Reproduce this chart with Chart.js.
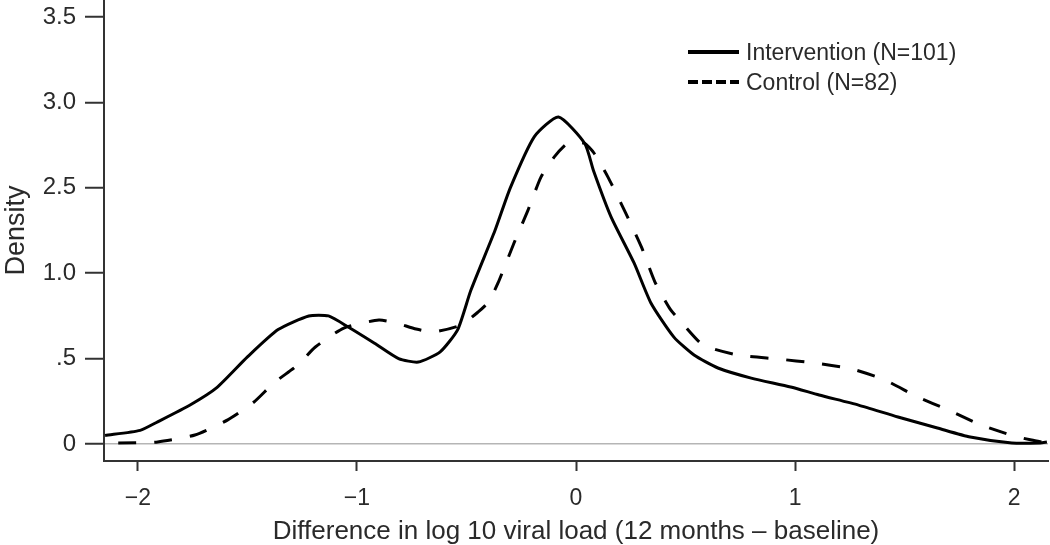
<!DOCTYPE html>
<html>
<head>
<meta charset="utf-8">
<script src="https://cdn.jsdelivr.net/npm/chart.js@4.4.1/dist/chart.umd.min.js"></script>
<style>
  html, body { margin: 0; padding: 0; background: #fff; }
  #wrap { width: 1050px; height: 545px; position: relative; }
</style>
</head>
<body>
<div id="wrap"><canvas id="c" width="1050" height="545"></canvas></div>
<script>
// ---- data ----
const seriesNames = ['Intervention (N=101)', 'Control (N=82)'];

const interventionX = [-2.15, -1.99, -1.91, -1.76, -1.64, -1.50, -1.36, -1.22, -1.13, -1.04, -0.92, -0.81, -0.72, -0.62, -0.54, -0.48, -0.37, -0.30, -0.19, -0.08, 0.04, 0.08, 0.16, 0.265, 0.342, 0.447, 0.539, 0.648, 0.80, 0.98, 1.11, 1.29, 1.47, 1.65, 1.80, 1.99, 2.12, 2.15];
const interventionY = [0.05, 0.08, 0.13, 0.23, 0.33, 0.51, 0.67, 0.75, 0.75, 0.685, 0.59, 0.50, 0.48, 0.54, 0.67, 0.90, 1.25, 1.50, 1.80, 1.915, 1.76, 1.60, 1.33, 1.06, 0.826, 0.626, 0.521, 0.445, 0.386, 0.334, 0.287, 0.228, 0.158, 0.094, 0.041, 0.006, 0.006, 0.012];

const controlX = [-2.09, -1.91, -1.74, -1.59, -1.47, -1.38, -1.27, -1.19, -1.06, -0.90, -0.82, -0.73, -0.65, -0.525, -0.445, -0.40, -0.356, -0.283, -0.219, -0.160, -0.100, -0.037, 0.037, 0.082, 0.146, 0.205, 0.25, 0.30, 0.36, 0.43, 0.49, 0.58, 0.74, 0.92, 1.09, 1.26, 1.41, 1.56, 1.70, 1.85, 2.00, 2.08, 2.15];
const controlY = [0.006, 0.012, 0.053, 0.141, 0.246, 0.357, 0.463, 0.568, 0.679, 0.726, 0.708, 0.673, 0.656, 0.697, 0.775, 0.831, 0.943, 1.177, 1.370, 1.563, 1.680, 1.762, 1.762, 1.704, 1.563, 1.411, 1.29, 1.15, 0.95, 0.79, 0.70, 0.58, 0.521, 0.498, 0.474, 0.439, 0.375, 0.275, 0.199, 0.111, 0.047, 0.023, 0.006];

const xTickValues = [-2, -1, 0, 1, 2];
const xTickLabels = ['\u22122', '\u22121', '0', '1', '2'];
const yTickValues = [0, 0.5, 1.0, 1.5, 2.0, 2.5];
const yTickLabels = ['0', '.5', '1.0', '2.5', '3.0', '3.5'];

const xTitle = 'Difference in log 10 viral load (12 months \u2013 baseline)';
const yTitle = 'Density';

// ---- build chart ----
const FONT = '"Liberation Sans", Arial, sans-serif';
const TXT = '#2a2a2a';

const toPts = (xs, ys) => xs.map((x, i) => ({ x: x, y: ys[i] }));

const legendPlugin = {
  id: 'customLegend',
  afterDraw(chart) {
    const ctx = chart.ctx;
    ctx.save();
    ctx.font = '23px ' + FONT;
    ctx.fillStyle = TXT;
    ctx.textBaseline = 'middle';
    ctx.textAlign = 'left';
    const rows = [
      { y: 52, dash: [] },
      { y: 82, dash: [10, 4] }
    ];
    rows.forEach((r, i) => {
      ctx.beginPath();
      ctx.setLineDash(r.dash);
      ctx.lineWidth = 4;
      ctx.strokeStyle = '#000';
      ctx.moveTo(688, r.y);
      ctx.lineTo(739, r.y);
      ctx.stroke();
      ctx.setLineDash([]);
      ctx.fillText(seriesNames[i], 746, r.y + 2);
    });
    ctx.restore();
  }
};

const noPad = (s) => { s.paddingTop = 0; s.paddingBottom = 0; s.paddingLeft = 0; s.paddingRight = 0; };

new Chart(document.getElementById('c'), {
  type: 'line',
  data: {
    datasets: [
      {
        label: seriesNames[0],
        data: toPts(interventionX, interventionY),
        borderColor: '#000',
        borderWidth: 3,
        pointRadius: 0,
        tension: 0.2,
        fill: false
      },
      {
        label: seriesNames[1],
        data: toPts(controlX, controlY),
        borderColor: '#000',
        borderWidth: 3,
        borderDash: [18, 18],
        pointRadius: 0,
        tension: 0.2,
        fill: false
      }
    ]
  },
  options: {
    responsive: false,
    animation: false,
    devicePixelRatio: 1,
    layout: { autoPadding: false, padding: { top: 0, right: 2, bottom: 0, left: 0 } },
    plugins: {
      legend: { display: false },
      tooltip: { enabled: false }
    },
    scales: {
      x: {
        type: 'linear',
        min: -2.155,
        max: 2.155,
        afterBuildTicks: (s) => { s.ticks = xTickValues.map(v => ({ value: v })); },
        afterFit: (s) => { s.height = 84; noPad(s); },
        border: { display: true, color: '#333', width: 2 },
        grid: {
          drawOnChartArea: false,
          drawTicks: true,
          tickLength: 10,
          tickColor: '#333',
          tickWidth: 2
        },
        ticks: {
          padding: 14,
          color: TXT,
          font: { family: FONT, size: 23 },
          maxRotation: 0,
          callback: (v) => xTickLabels[xTickValues.indexOf(v)]
        },
        title: {
          display: true,
          text: xTitle,
          color: TXT,
          font: { family: FONT, size: 26 },
          padding: { top: 0, bottom: -2 }
        }
      },
      y: {
        type: 'linear',
        min: -0.0995,
        max: 2.6,
        afterBuildTicks: (s) => { s.ticks = yTickValues.map(v => ({ value: v })); },
        afterFit: (s) => { s.width = 104; noPad(s); },
        border: { display: true, color: '#333', width: 2 },
        grid: {
          drawOnChartArea: true,
          color: (c) => (c.tick && c.tick.value === 0 ? '#b5b5b5' : 'rgba(0,0,0,0)'),
          lineWidth: 1.5,
          drawTicks: true,
          tickLength: 19,
          tickColor: '#333',
          tickWidth: 2
        },
        ticks: {
          padding: 9,
          color: TXT,
          font: { family: FONT, size: 24 },
          callback: (v) => yTickLabels[yTickValues.indexOf(v)]
        },
        title: {
          display: true,
          text: yTitle,
          color: TXT,
          font: { family: FONT, size: 27 },
          padding: { top: 0, bottom: 0 }
        }
      }
    }
  },
  plugins: [legendPlugin]
});
</script>
</body>
</html>
